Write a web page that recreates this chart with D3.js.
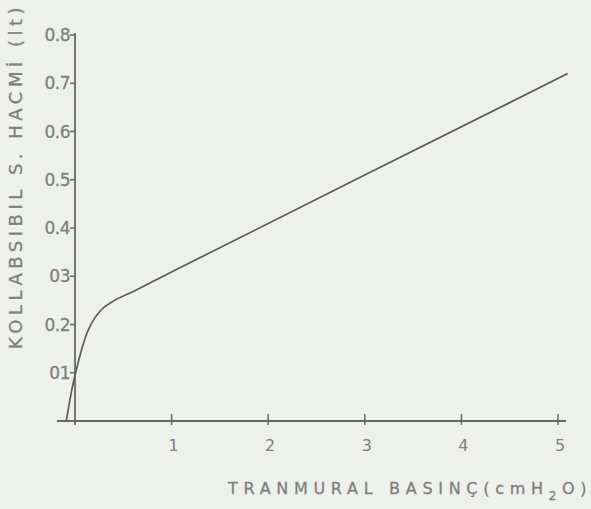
<script src="https://d3js.org/d3.v7.min.js"></script>
<html>
<head>
<style>
  body { margin: 0; background: #eef0ec; }
  svg { display: block; }
</style>
</head>
<body>
<div id="myPlot"></div>
</body>
<script>
    const width = 591;
    const height = 509;

    // data
    const pressure = [-0.09, 0.0, 0.14, 0.27, 0.41, 0.62, 1.04, 5.10];
    const volume   = [0.0, 0.095, 0.19, 0.23, 0.25, 0.27, 0.313, 0.72];
    const xTicks = [1, 2, 3, 4, 5];
    const yTicks = [0.1, 0.2, 0.3, 0.4, 0.5, 0.6, 0.7, 0.8];
    const yTickLabels = ["01", "0.2", "03", "0.4", "0.5", "0.6", "0.7", "0.8"];

    const x = d3.scaleLinear().domain([0, 5]).range([75, 558]);
    const y = d3.scaleLinear().domain([0, 0.8]).range([421, 35]);

    const svg = d3.select("#myPlot").append("svg")
        .attr("width", width)
        .attr("height", height);

    const ink = "#666865";
    const txt = "#7d807c";

    // x axis
    svg.append("line")
        .attr("x1", 57).attr("x2", 566)
        .attr("y1", y(0)).attr("y2", y(0))
        .attr("stroke", ink).attr("stroke-width", 1.8);
    svg.selectAll(".xt").data(xTicks).enter().append("line")
        .attr("x1", d => x(d)).attr("x2", d => x(d))
        .attr("y1", y(0) - 7).attr("y2", y(0) + 4)
        .attr("stroke", ink).attr("stroke-width", 1.5);
    svg.selectAll(".xl").data(xTicks).enter().append("text")
        .attr("x", d => x(d) + 2).attr("y", y(0) + 30)
        .attr("text-anchor", "middle")
        .attr("font-family", "DejaVu Sans")
        .attr("font-size", 16)
        .attr("fill", txt)
        .text(d => d);

    // y axis
    svg.append("line")
        .attr("x1", x(0)).attr("x2", x(0))
        .attr("y1", y(0.8) - 2).attr("y2", y(0) + 4)
        .attr("stroke", ink).attr("stroke-width", 1.8);
    svg.selectAll(".yt").data(yTicks).enter().append("line")
        .attr("x1", x(0) - 5).attr("x2", x(0))
        .attr("y1", d => y(d)).attr("y2", d => y(d))
        .attr("stroke", ink).attr("stroke-width", 1.5);
    svg.selectAll(".yl").data(yTicks).enter().append("text")
        .attr("x", x(0) - 5).attr("y", d => y(d) + 6)
        .attr("text-anchor", "end")
        .attr("font-family", "DejaVu Sans")
        .attr("font-size", 17)
        .attr("letter-spacing", -0.5)
        .attr("fill", txt)
        .attr("stroke", txt).attr("stroke-width", 0.3)
        .text((d, i) => yTickLabels[i]);

    // curve
    const pts = pressure.map((p, i) => [p, volume[i]]);
    const line = d3.line()
        .x(d => x(d[0]))
        .y(d => y(d[1]))
        .curve(d3.curveCatmullRom.alpha(0.5));
    svg.append("path")
        .attr("d", line(pts))
        .attr("fill", "none")
        .attr("stroke", "#5a5c59")
        .attr("stroke-width", 1.7);

    // axis titles
    const xt = svg.append("text")
        .attr("x", 228).attr("y", 494)
        .attr("font-family", "DejaVu Sans")
        .attr("font-size", 16)
        .attr("letter-spacing", 5.7)
        .attr("fill", txt)
        .attr("stroke", txt).attr("stroke-width", 0.3);
    xt.append("tspan").text("TRANMURAL  BASINÇ(cmH");
    xt.append("tspan").attr("dy", 6).attr("font-size", 12).text("2");
    xt.append("tspan").attr("dy", -6).text("O)");

    svg.append("text")
        .attr("transform", "translate(22,349) rotate(-90)")
        .attr("font-family", "DejaVu Sans")
        .attr("font-size", 18)
        .attr("letter-spacing", 4.5)
        .attr("fill", txt)
        .attr("stroke", txt).attr("stroke-width", 0.3)
        .text("KOLLABSIBIL S. HACMİ (lt)");
</script>
</html>
